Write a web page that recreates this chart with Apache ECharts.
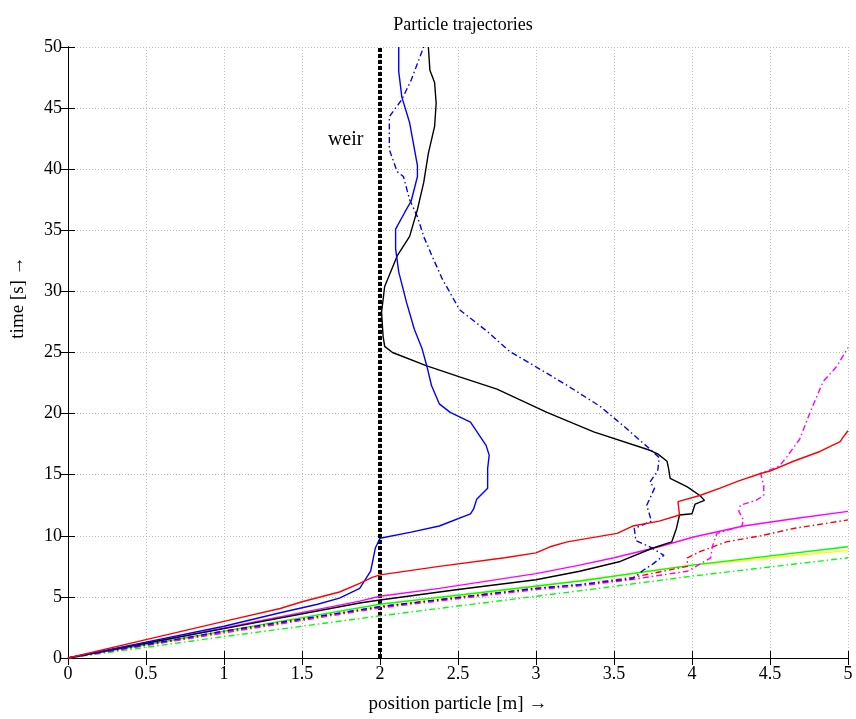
<!DOCTYPE html>
<html>
<head>
<meta charset="utf-8">
<script src="https://cdn.jsdelivr.net/npm/echarts@6/dist/echarts.min.js"></script>
<style>html,body{margin:0;padding:0;background:#fff}#c{width:856px;height:719px}</style>
</head>
<body>
<div id="c"></div>
<script>
var xTicks = [0, 0.5, 1, 1.5, 2, 2.5, 3, 3.5, 4, 4.5, 5];
var yTicks = [0, 5, 10, 15, 20, 25, 30, 35, 40, 45, 50];
var weirX = 2;
var weirLine = [[2, 0], [2, 50]];
var weirLabel = [[1.78, 42.4]];

var redSolid = [[0,0],[0.5,1.5],[1,3.0],[1.36,4.05],[1.5,4.6],[1.74,5.4],[1.87,6.1],[1.95,6.6],[2.0,6.8],[2.38,7.5],[2.8,8.2],[3.0,8.6],[3.09,9.1],[3.2,9.5],[3.52,10.2],[3.62,10.8],[3.79,11.2],[3.92,11.7],[3.91,12.8],[4.05,13.3],[4.18,13.9],[4.3,14.5],[4.44,15.1],[4.5,15.3],[4.65,16.1],[4.82,16.9],[4.95,17.7],[4.97,18.1],[5.0,18.6]];
var blueSolid = [[0,0],[0.5,1.3],[1,2.6],[1.36,3.7],[1.6,4.4],[1.74,4.9],[1.87,5.7],[1.94,7.1],[1.97,9.0],[2.0,9.8],[2.2,10.3],[2.38,10.8],[2.58,11.8],[2.6,12.2],[2.62,13.0],[2.69,13.9],[2.69,15.5],[2.7,16.6],[2.68,17.4],[2.58,19.3],[2.45,20.1],[2.38,20.8],[2.33,22.3],[2.30,23.9],[2.27,25.3],[2.22,26.9],[2.17,29.1],[2.12,31.6],[2.10,33.5],[2.10,35.1],[2.16,36.5],[2.2,37.4],[2.24,39.4],[2.24,40.3],[2.19,43.8],[2.14,45.9],[2.12,48],[2.12,50]];
var blueDashed = [[0,0],[1,2.2],[2,4.2],[3,5.7],[3.28,6.0],[3.62,6.5],[3.69,7.2],[3.75,7.7],[3.82,8.4],[3.73,9.1],[3.64,9.6],[3.63,10.6],[3.74,11.2],[3.71,12.5],[3.76,13.9],[3.73,14.4],[3.78,15.3],[3.79,16.4],[3.73,17.1],[3.56,19.0],[3.41,20.6],[3.2,22.3],[3.03,23.6],[2.83,25.1],[2.69,26.7],[2.51,28.5],[2.4,31.0],[2.33,33.0],[2.28,34.5],[2.24,36.1],[2.19,37.5],[2.15,39.4],[2.11,39.8],[2.06,41.6],[2.06,44.3],[2.14,45.7],[2.2,47.3],[2.28,50]];
var blackSolid = [[0,0],[1,2.4],[1.87,4.5],[2,4.75],[2.5,5.6],[3,6.4],[3.28,7.1],[3.54,7.9],[3.75,9.0],[3.87,9.5],[3.9,10.6],[3.92,11.7],[4.0,11.8],[4.02,12.6],[4.08,12.9],[4.05,13.3],[3.97,14.0],[3.86,14.7],[3.85,15.5],[3.84,16.1],[3.78,16.7],[3.73,17.0],[3.37,18.5],[3.07,20.1],[2.75,22.0],[2.51,23.0],[2.30,23.9],[2.08,25.0],[2.03,25.5],[2.02,26.3],[2.01,28.3],[2.03,30.4],[2.11,32.9],[2.19,34.5],[2.24,36.7],[2.28,38.9],[2.31,41.3],[2.35,43.5],[2.36,45.4],[2.35,47.1],[2.32,48.1],[2.31,50]];
var magentaSolid = [[0,0],[1,2.45],[1.87,4.65],[2,5.05],[2.38,5.7],[3,6.9],[3.28,7.6],[3.5,8.2],[3.79,9.1],[4.01,9.9],[4.33,10.8],[4.65,11.4],[5,12.0]];
var magentaDashed = [[0,0],[1,2.05],[2,4.1],[3,5.6],[3.28,5.9],[3.6,6.4],[3.97,7.1],[4.12,8.2],[4.13,9.1],[4.16,10.2],[4.32,10.8],[4.33,11.3],[4.3,12.0],[4.31,12.5],[4.41,12.9],[4.46,13.3],[4.46,14.1],[4.44,15.1],[4.5,15.4],[4.56,15.7],[4.61,16.5],[4.69,17.9],[4.76,20.2],[4.84,22.6],[4.93,23.9],[5.0,25.4]];
var redDashed = [[0,0],[1,2.1],[2,4.2],[3,5.7],[3.28,6.0],[3.62,6.6],[3.97,7.5],[3.97,8.2],[4.05,8.7],[4.22,9.5],[4.44,10.0],[4.65,10.6],[5,11.3]];
var yellowSolid = [[0,0],[1,2.1],[2,4.2],[3.15,6.1],[4.01,7.6],[5,8.8]];
var greenSolid = [[0,0],[1,2.2],[2,4.4],[3.28,6.3],[4,7.6],[5,9.1]];
var greenDashed = [[0,0],[1,1.75],[2,3.45],[3.28,5.5],[4,6.7],[5,8.2]];

var FONT = 'Liberation Serif';
var dashDot = [6, 3, 1.5, 3];

function ln(name, data, color, dashed) {
  return {
    name: name, type: 'line', data: data, showSymbol: false, symbol: 'none',
    xAxisIndex: 0, yAxisIndex: 0, animation: false,
    lineStyle: { color: color, width: 1.4, type: dashed ? dashDot : 'solid' },
    z: 3
  };
}

var chart = echarts.init(document.getElementById('c'), null, { renderer: 'canvas' });
var axisCommon = {
  type: 'value', min: 0,
  axisLine: { show: true, lineStyle: { color: '#000', width: 1 } },
  axisTick: { show: true, inside: true, length: 7, lineStyle: { color: '#000' } }
};
chart.setOption({
  backgroundColor: '#fff',
  animation: false,
  title: {
    text: 'Particle trajectories', left: 458, top: 11, textAlign: 'center',
    textStyle: { fontFamily: FONT, fontSize: 18, fontWeight: 'normal', color: '#000' }
  },
  grid: { left: 68, right: 8, top: 47, bottom: 59, containLabel: false },
  xAxis: [
    Object.assign({}, axisCommon, {
      position: 'bottom', max: 5, interval: 0.5,
      name: 'position particle [m] \u2192', nameLocation: 'middle', nameGap: 37,
      nameTextStyle: { fontFamily: FONT, fontSize: 19, color: '#000' },
      axisLabel: { fontFamily: FONT, fontSize: 18, color: '#000', margin: 7,
        formatter: function (v) { return xTicks.indexOf(v) >= 0 ? String(v) : ''; } },
      splitLine: { show: true, lineStyle: { color: '#bdbdbd', type: [1, 2], width: 1 } }
    }),
    Object.assign({}, axisCommon, {
      position: 'top', max: 5, interval: 0.5,
      axisLabel: { show: false }, splitLine: { show: false }
    })
  ],
  yAxis: [
    Object.assign({}, axisCommon, {
      position: 'left', max: 50, interval: 5,
      name: 'time [s] \u2192', nameLocation: 'middle', nameGap: 40,
      nameTextStyle: { fontFamily: FONT, fontSize: 19, color: '#000', padding: [0, 0, 0, 110] },
      axisLabel: { fontFamily: FONT, fontSize: 18, color: '#000', margin: 6,
        formatter: function (v) { return yTicks.indexOf(v) >= 0 ? String(v) : ''; } },
      splitLine: { show: true, lineStyle: { color: '#bdbdbd', type: [1, 2], width: 1 } }
    }),
    Object.assign({}, axisCommon, {
      position: 'right', max: 50, interval: 5,
      axisLabel: { show: false }, splitLine: { show: false }
    })
  ],
  series: [
    {
      name: 'weir', type: 'line', data: weirLine, showSymbol: false, symbol: 'none',
      lineStyle: { color: '#000', width: 4, type: [4, 2] }, z: 2
    },
    {
      name: 'weirLabel', type: 'scatter', data: weirLabel, symbolSize: 0,
      itemStyle: { opacity: 1 },
      label: { show: true, position: 'inside', formatter: 'weir', opacity: 1,
        fontFamily: FONT, fontSize: 20, color: '#000', textBorderWidth: 0 }, z: 5
    },
    ln('green dashed', greenDashed, '#00ff00', true),
    ln('yellow', yellowSolid, '#ffff00', false),
    ln('green', greenSolid, '#00ff00', false),
    ln('red dashed', redDashed, '#ff0000', true),
    ln('magenta dashed', magentaDashed, '#ff00ff', true),
    ln('blue dashed', blueDashed, '#0000ff', true),
    ln('magenta', magentaSolid, '#ff00ff', false),
    ln('black', blackSolid, '#000000', false),
    ln('blue', blueSolid, '#0000ff', false),
    ln('red', redSolid, '#ff0000', false)
  ]
});
</script>
</body>
</html>
